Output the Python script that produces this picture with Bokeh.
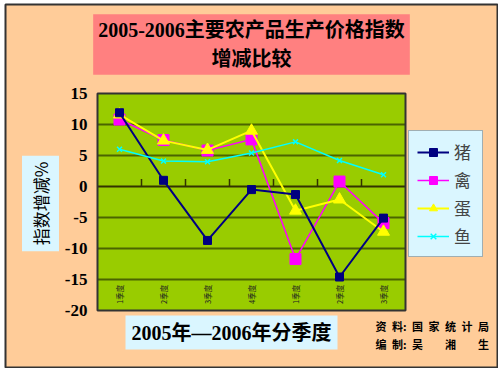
from bokeh.plotting import figure
from bokeh.models import Legend, LegendItem, Label, Range1d, ColumnDataSource
from bokeh.core.properties import value
from bokeh.embed import file_html
from bokeh.resources import INLINE
import math

# ---- data ----
quarters = ["1季度", "2季度", "3季度", "4季度", "1季度", "2季度", "3季度"]
pork = [11.9, 1.0, -8.7, -0.5, -1.3, -14.6, -5.1]
poultry = [10.8, 7.5, 5.8, 7.6, -11.7, 0.8, -5.9]
eggs = [11.6, 7.4, 5.9, 9.0, -3.9, -2.1, -7.3]
fish = [6.0, 4.1, 4.0, 5.4, 7.2, 4.2, 1.9]
series_names = ["猪", "禽", "蛋", "鱼"]
y_ticks = [-20, -15, -10, -5, 0, 5, 10, 15]
title_text = "2005-2006主要农产品生产价格指数\n增减比较"
y_title = "指数增减%"
x_title = "2005年—2006年分季度"
NB = "\u00a0"
EN = "\u2002"
IS = "\u3000"
source_lines = ["资" + EN + "料:" + EN + EN.join("国家统计局"),
                "编" + EN + "制:" + EN + (IS * 2).join("吴湘生")]

xs = list(range(1, len(quarters) + 1))
x_lo, x_hi = 0.5, len(quarters) + 0.5
y_lo, y_hi = min(y_ticks), max(y_ticks)

PEACH = "#FFCC99"
GREEN = "#99CC00"
CYANBOX = "#DAF6FF"
SERIF_CJK = "'Liberation Serif', 'Noto Sans CJK SC'"

# layout in page pixels
W, H = 498, 368
FR_L, FR_T, FR_R, FR_B = 5, 4, 497, 367          # outer framed chart
AR_L, AR_T, AR_R, AR_B = 97, 93, 405, 310        # plotting area
xpx = (x_hi - x_lo) / (AR_R - AR_L)
ypx = (y_hi - y_lo) / (AR_B - AR_T)
x_range = Range1d(x_lo - (AR_L - FR_L) * xpx, x_hi + (FR_R - AR_R) * xpx)
y_range = Range1d(y_lo - (FR_B - AR_B) * ypx, y_hi + (AR_T - FR_T) * ypx)


def sx(px):
    return px - FR_L


def sy(py):
    return FR_B - py


p = figure(width=W, height=H, x_range=x_range, y_range=y_range,
           x_axis_type=None, y_axis_type=None,
           output_backend="svg", toolbar_location=None,
           min_border_left=FR_L, min_border_top=FR_T,
           min_border_right=W - FR_R, min_border_bottom=H - FR_B,
           background_fill_color=PEACH, border_fill_color="#FFFFFF")
p.grid.visible = False
p.outline_line_color = "#333333"
p.outline_line_width = 2

# plot area
p.quad(left=[x_lo], right=[x_hi], bottom=[y_lo], top=[y_hi],
       fill_color=GREEN, line_color=None)

# horizontal grid lines
inner = [t for t in y_ticks if y_lo < t < y_hi and t != 0]
p.segment(x0=[x_lo] * len(inner), x1=[x_hi] * len(inner), y0=inner, y1=inner,
          line_color="#4B6400", line_width=2)
# zero line with category tick marks
p.segment(x0=[x_lo], x1=[x_hi], y0=[0], y1=[0], line_color="#333300", line_width=2)
bounds = [x + 0.5 for x in xs[:-1]]
p.segment(x0=bounds, y0=[0] * len(bounds), x1=bounds, y1=[1.2] * len(bounds),
          line_color="#333300", line_width=1.5)

# plot area border
p.quad(left=[x_lo], right=[x_hi], bottom=[y_lo], top=[y_hi],
       fill_color=None, line_color="#333333", line_width=2)

# y tick labels
p.text(x=[x_lo] * len(y_ticks), y=y_ticks, text=[str(t) for t in y_ticks],
       x_offset=-10, text_align="right", text_baseline="middle",
       text_font=value("Liberation Serif"), text_font_style="bold",
       text_font_size="17px", text_color="#000000")

# category labels inside the plot near the bottom
p.text(x=xs, y=[-17.4] * len(xs), text=quarters, angle=math.pi / 2,
       text_align="center", text_baseline="middle",
       text_font=value("Noto Sans CJK SC"), text_font_size="7.5px", text_color="#222222")

src = ColumnDataSource(dict(x=xs, pork=pork, poultry=poultry, eggs=eggs, fish=fish))

l_poul = p.line("x", "poultry", source=src, line_color="#FF00FF", line_width=1.5)
m_poul = p.scatter("x", "poultry", source=src, marker="square", size=11,
                   fill_color="#FF00FF", line_color="#FF00FF")
l_egg = p.line("x", "eggs", source=src, line_color="#FFFF00", line_width=2)
m_egg = p.scatter("x", "eggs", source=src, marker="triangle", size=12,
                  fill_color="#FFFF00", line_color="#FFFF00")
l_pork = p.line("x", "pork", source=src, line_color="#000080", line_width=2)
m_pork = p.scatter("x", "pork", source=src, marker="square", size=8,
                   fill_color="#000080", line_color="#000080")
l_fish = p.line("x", "fish", source=src, line_color="#00FFFF", line_width=1.5)
m_fish = p.scatter("x", "fish", source=src, marker="x", size=7,
                   line_color="#00FFFF", line_width=1.5)

legend = Legend(items=[
    LegendItem(label=series_names[0], renderers=[l_pork, m_pork]),
    LegendItem(label=series_names[1], renderers=[l_poul, m_poul]),
    LegendItem(label=series_names[2], renderers=[l_egg, m_egg]),
    LegendItem(label=series_names[3], renderers=[l_fish, m_fish]),
], location=(sx(408), sy(257)), background_fill_color=CYANBOX, background_fill_alpha=1,
    border_line_color="#666666", border_line_width=1,
    label_text_font="Noto Sans CJK SC", label_text_font_size="17px",
    glyph_width=32, glyph_height=20, label_height=20, spacing=3, padding=8,
    margin=0, label_standoff=5)
p.add_layout(legend, "center")

# title box
p.add_layout(Label(x=sx(251), y=sy(44), x_units="screen", y_units="screen", text=title_text,
                   text_align="center", text_baseline="middle", text_font=SERIF_CJK,
                   text_font_size="20px", text_font_style="bold", text_color="#000000",
                   background_fill_color="#FF8080", padding=5, text_line_height=1.3))
# y title
p.add_layout(Label(x=sx(40), y=sy(203), x_units="screen", y_units="screen", text=y_title,
                   angle=math.pi / 2, text_align="center", text_baseline="middle",
                   text_font="Noto Sans CJK SC", text_font_size="17px", text_color="#000000",
                   background_fill_color=CYANBOX, padding=6))
# x title
p.add_layout(Label(x=sx(231), y=sy(332), x_units="screen", y_units="screen", text=x_title,
                   text_align="center", text_baseline="middle", text_font=SERIF_CJK,
                   text_font_size="20px", text_font_style="bold", text_color="#000000",
                   background_fill_color=CYANBOX, padding=6))
# source lines
for i, t in enumerate(source_lines):
    p.add_layout(Label(x=sx(375), y=sy(325 + 18 * i), x_units="screen", y_units="screen", text=t,
                       text_align="left", text_baseline="middle", text_font="Noto Sans CJK SC",
                       text_font_size="11px", text_font_style="bold", text_color="#000000"))

open("out.html", "w").write(file_html(p, INLINE))
